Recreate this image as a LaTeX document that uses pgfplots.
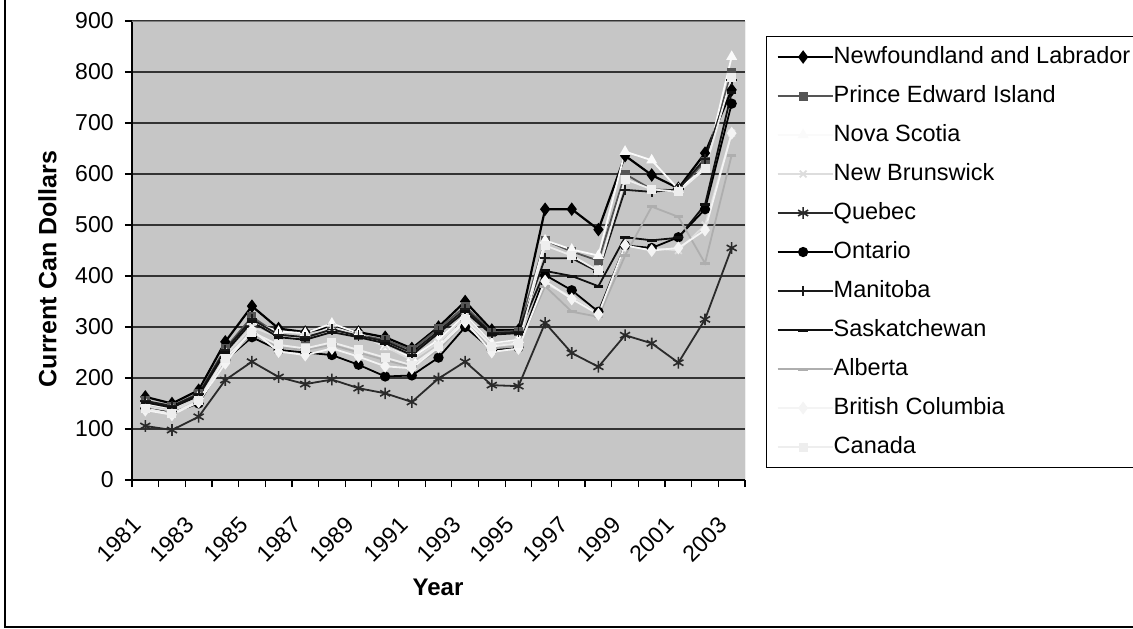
\documentclass[border=0pt]{standalone}
\usepackage{fontspec}
\setmainfont{Liberation Sans}
\usepackage{pgfplots}
\pgfplotsset{compat=1.18}
\usepackage{pgfplotstable}
\usetikzlibrary{plotmarks,calc}

\definecolor{plotbg}{HTML}{C6C6C6}
\definecolor{gridc}{HTML}{333333}
\definecolor{cPEI}{HTML}{555555}
\definecolor{cNS}{HTML}{FAFAFA}
\definecolor{cNB}{HTML}{DDDDDD}
\definecolor{cQC}{HTML}{2A2A2A}
\definecolor{cMB}{HTML}{1A1A1A}
\definecolor{cSK}{HTML}{101010}
\definecolor{cAB}{HTML}{AEAEAE}
\definecolor{cBC}{HTML}{F4F4F4}
\definecolor{cCA}{HTML}{EEEEEE}

% i = 0..22 -> 1981..2003
\pgfplotstableread{
i  NL  PEI NS  NB  QC  ON  MB  SK  AB  BC  CA
0  163 155 150 145 106 140 155 152 140 137 140
1  150 145 140 135 98  132 145 142 130 128 130
2  176 170 165 160 124 150 168 165 153 153 155
3  271 258 250 245 196 235 255 250 235 229 239
4  341 320 310 300 232 280 315 310 285 294 290
5  297 285 291 280 202 255 285 280 260 252 265
6  290 278 288 280 188 250 280 275 255 245 258
7  300 297 307 300 197 245 295 290 265 258 270
8  290 284 288 285 180 226 283 280 250 242 255
9  280 275 261 262 170 203 272 268 235 223 240
10 258 255 240 235 153 205 250 245 222 219 225
11 300 297 275 270 199 240 292 288 255 261 262
12 350 340 323 320 232 300 335 330 310 310 315
13 294 290 268 265 186 255 288 285 258 251 262
14 294 292 275 272 184 260 290 288 262 258 268
15 531 470 470 385 308 402 435 410 380 390 460
16 531 448 452 360 249 372 435 400 330 355 440
17 491 430 440 330 222 330 408 380 320 325 410
18 636 600 644 460 284 460 569 476 440 460 590
19 598 570 627 455 268 455 565 470 536 450 570
20 572 568 570 450 230 476 570 475 516 455 565
21 641 625 611 500 315 531 630 540 425 490 610
22 765 800 830 680 455 738 785 760 637 680 790
}\data

\begin{document}
\begin{tikzpicture}[x=1pt,y=1pt]
\begin{axis}[
  scale only axis,
  width=306.5pt, height=229.5pt,
  xmin=-0.5, xmax=22.5, ymin=0, ymax=900,
  axis lines=left,
  axis line style={-, line width=0.7pt, black},
  axis background/.style={fill=plotbg},
  tick align=outside,
  xtick={0,2,...,22},
  xticklabels={1981,1983,1985,1987,1989,1991,1993,1995,1997,1999,2001,2003},
  major x tick style={draw=none},
  minor xtick={-0.5,0.5,...,22.5},
  minor tick length=3.5pt,
  major tick length=3.5pt,
  ytick={0,100,...,900},
  ymajorgrids,
  grid style={line width=0.75pt, gridc},
  tick style={black, line width=0.6pt},
  /pgf/number format/assume math mode=true,
  yticklabel style={font=\fontsize{11.5}{13}\selectfont, inner sep=0pt, xshift=-5.5pt},
  xticklabel style={font=\fontsize{11.5}{13}\selectfont, inner sep=0pt, xshift=-7pt, yshift=-14pt, rotate=45, anchor=north east},
  legend style={at={(1.0343,0.9673)}, anchor=north west, draw=black, line width=0.5pt,
     fill=white, font=\fontsize{11.75}{13}\selectfont, row sep=8.5pt,
     inner xsep=5pt, inner ysep=4.75pt,
     nodes={inner sep=0pt, text height=8.5pt, text depth=2.5pt}},
  legend cell align=left,
  legend image code/.code={\draw[mark repeat=2,mark phase=2] plot coordinates {(0pt,0pt) (12.75pt,0pt) (25.5pt,0pt)}; \path (25.5pt,0pt) -- (27.5pt,0pt);},
  every axis plot/.append style={line width=0.9pt},
]
\addplot[black, line width=1.1pt, mark=diamond*, mark size=2.5pt, mark options={solid, fill=black}] table[x=i,y=NL]{\data};
\addlegendentry{Newfoundland and Labrador}
\addplot[cPEI, mark=square*, mark size=1.8pt, mark options={solid, fill=cPEI}] table[x=i,y=PEI]{\data};
\addlegendentry{Prince Edward Island}
\addplot[cNS, mark=triangle*, mark size=2.3pt, mark options={solid, fill=cNS}] table[x=i,y=NS]{\data};
\addlegendentry{Nova Scotia}
\addplot[cNB, mark=x, mark size=2.4pt, mark options={solid}] table[x=i,y=NB]{\data};
\addlegendentry{New Brunswick}
\addplot[cQC, mark=asterisk, mark size=2.9pt, mark options={solid, line width=0.8pt}] table[x=i,y=QC]{\data};
\addlegendentry{Quebec}
\addplot[black, mark=*, mark size=2.1pt, mark options={solid, fill=black}] table[x=i,y=ON]{\data};
\addlegendentry{Ontario}
\addplot[cMB, mark=+, mark size=2.6pt, mark options={solid}] table[x=i,y=MB]{\data};
\addlegendentry{Manitoba}
\addplot[cSK, mark=-, mark size=2.4pt, mark options={solid, line width=1.5pt}] table[x=i,y=SK]{\data};
\addlegendentry{Saskatchewan}
\addplot[cAB, mark=-, mark size=2.4pt, mark options={solid, line width=1.5pt}] table[x=i,y=AB]{\data};
\addlegendentry{Alberta}
\addplot[cBC, mark=diamond*, mark size=2.5pt, mark options={solid, fill=cBC}] table[x=i,y=BC]{\data};
\addlegendentry{British Columbia}
\addplot[cCA, mark=square*, mark size=1.8pt, mark options={solid, fill=cCA}] table[x=i,y=CA]{\data};
\addlegendentry{Canada}
\draw[gray, line width=0.5pt] (rel axis cs:0,1) -- (rel axis cs:1,1) -- (rel axis cs:1,0);
\coordinate (O) at (rel axis cs:0,0);
\end{axis}
\pgfresetboundingbox
\path[use as bounding box] ($(O)+(-66,-74)$) rectangle ($(O)+(500.5,240)$);
\draw[line width=1pt] ($(O)+(-63.5,240)$) -- ($(O)+(-63.5,-73.4)$) -- ($(O)+(500.5,-73.4)$);
\node[rotate=90, font=\fontsize{12.5}{14}\selectfont\bfseries] at ($(O)+(-42.25,105.5)$) {Current Can Dollars};
\node[font=\fontsize{12}{14}\selectfont\bfseries] at ($(O)+(153,-53.5)$) {Year};
\end{tikzpicture}
\end{document}
